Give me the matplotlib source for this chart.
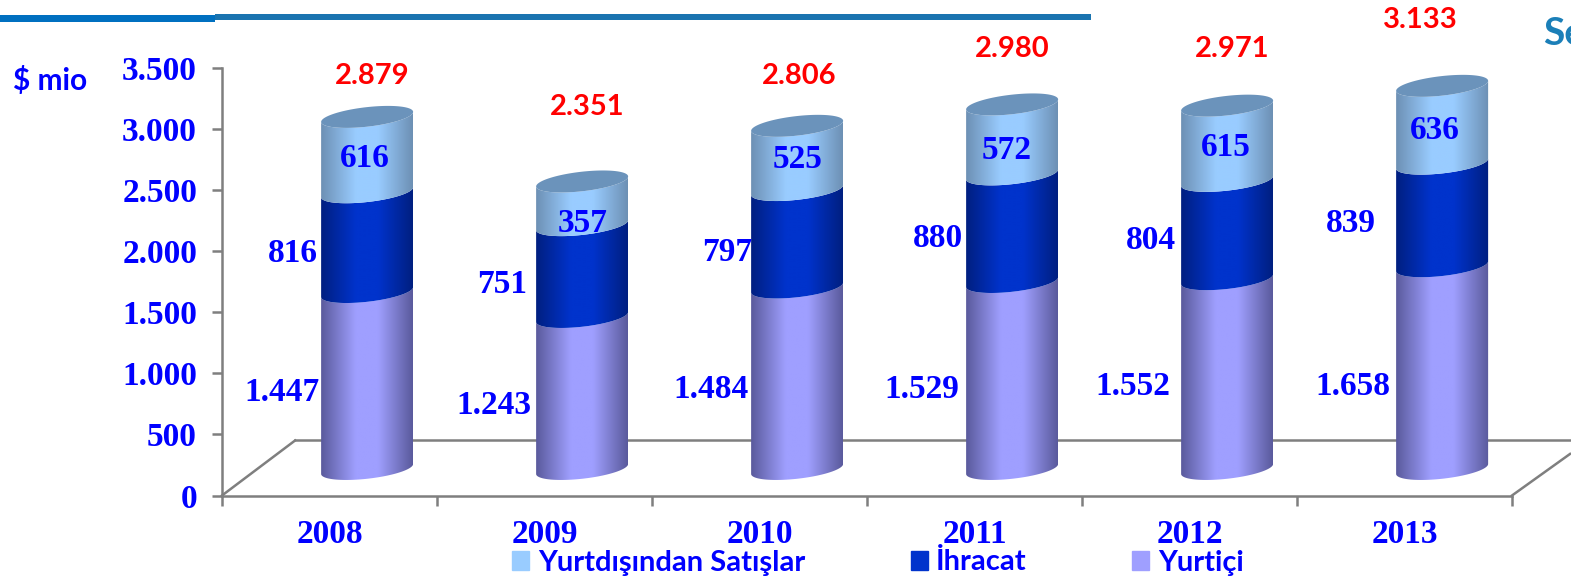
import numpy as np
import matplotlib
matplotlib.use("Agg")
import matplotlib.pyplot as plt
from matplotlib.colors import LinearSegmentedColormap
from matplotlib.patches import Patch, PathPatch, Rectangle
from matplotlib.path import Path

# ---------- data ----------
years = ["2008", "2009", "2010", "2011", "2012", "2013"]
yurtici = [1447, 1243, 1484, 1529, 1552, 1658]
ihracat = [816, 751, 797, 880, 804, 839]
yurtdisi = [616, 357, 525, 572, 615, 636]
totals = [2879, 2351, 2806, 2980, 2971, 3133]
series_names = ["Yurtdışından Satışlar", "İhracat", "Yurtiçi"]
y_ticks = [0, 500, 1000, 1500, 2000, 2500, 3000, 3500]

# ---------- style / layout (pixels) ----------
W, H = 1571, 581
AX_L, AX_R, AX_T, AX_B = 222, 1512, 67.5, 495.5
BLUE, RED, GREY = "#0000ff", "#ff0000", "#7f7f7f"
SERIF = "Liberation Serif"
SANS = "Lato"
LIGHT = ("#6d90b4", "#99ccff")
MID = ("#001f80", "#0033cc")
LOW = ("#5a5a9c", "#9f9fff")
TOPCAP = "#6b93bb"
BAR_OFFSET = 0.175      # 3-D shift of the bars from the category centre
BAR_HALF = 46           # px
ELL_SHEAR = 5           # px rise from centre to the right edge
ELL_B = 9.8             # px
FLOOR = 217             # value at which the 3-D base sits

lab_low = [(-85, 12), (-88, 12.5), (-86, 11), (-90, 14), (-94, 12.4), (-89, 19)]
lab_mid = [(-74, 11.4), (-80, 13.4), (-70, 13.7), (-74, 10.3), (-76, 10.5), (-91, 8.5)]
lab_top = [(-2, 4), (1, 20), (0, 1.5), (-6, 11), (-1, 4), (-7, 6)]
lab_tot = [(5, -41), (5, -74), (2, -50), (0, -55), (5, -57), (-22, -66)]

fig = plt.figure(figsize=(W / 100, H / 100), dpi=100, facecolor="white")
ax = fig.add_axes([AX_L / W, 1 - AX_B / H, (AX_R - AX_L) / W, (AX_B - AX_T) / H])
ax.set_xlim(0, len(years))
ax.set_ylim(0, 3500)
ax.patch.set_alpha(0)

px_x = (AX_R - AX_L) / len(years)     # px per category
px_y = (AX_B - AX_T) / 3500           # px per value


def grad(edge, centre):
    return LinearSegmentedColormap.from_list(
        "g", [(0, edge), (0.38, centre), (0.62, centre), (1, edge)])


def arc(xc, v, t):
    """Ellipse points in data coordinates; t=pi..2pi is the front (lower) side."""
    dx = BAR_HALF * np.cos(t)
    dy = ELL_SHEAR * np.cos(t) + ELL_B * np.sin(t)
    return np.column_stack([xc + dx / px_x, v + dy / px_y])


T_FRONT = np.linspace(np.pi, 2 * np.pi, 60)
ramp = np.linspace(0, 1, 256).reshape(1, -1)


def segment(xc, v0, v1, colors, z):
    lower = arc(xc, v0, T_FRONT)
    upper = arc(xc, v1, T_FRONT)[::-1]
    verts = np.vstack([lower, upper, lower[:1]])
    clip = PathPatch(Path(verts), transform=ax.transData, fc="none", ec="none")
    ax.add_patch(clip)
    margin = 30 / px_y
    im = ax.imshow(ramp, aspect="auto", cmap=grad(*colors), zorder=z,
                   extent=[xc - BAR_HALF / px_x, xc + BAR_HALF / px_x,
                           v0 - margin, v1 + margin], interpolation="bilinear")
    im.set_clip_path(clip)


# floor of the 3-D plot
back_v = 450
floor_depth = 0.34
ax.plot([0, floor_depth], [0, back_v], color=GREY, lw=1.8, zorder=1, clip_on=False)
ax.plot([floor_depth, 6.27], [back_v, back_v], color=GREY, lw=1.8, zorder=1, clip_on=False)
ax.plot([6, 6.27], [0, 340], color=GREY, lw=1.8, zorder=1, clip_on=False)

# cylinders
for i in range(len(years)):
    xc = i + 0.5 + BAR_OFFSET
    b0 = FLOOR
    b1 = b0 + yurtici[i]
    b2 = b1 + ihracat[i]
    b3 = b2 + yurtdisi[i]
    segment(xc, b0, b1, LOW, 3)
    segment(xc, b1, b2, MID, 3.1)
    segment(xc, b2, b3, LIGHT, 3.2)
    cap = arc(xc, b3, np.linspace(0, 2 * np.pi, 120))
    ax.fill(cap[:, 0], cap[:, 1], color=TOPCAP, lw=0, zorder=3.3)

    for val, mid, off in ((yurtici[i], b0 + yurtici[i] / 2, lab_low[i]),
                          (ihracat[i], b1 + ihracat[i] / 2, lab_mid[i]),
                          (yurtdisi[i], b2 + yurtdisi[i] / 2, lab_top[i])):
        ax.annotate(f"{val:,}".replace(",", "."), (xc, mid), xytext=(off[0], -off[1]),
                    textcoords="offset pixels", ha="center", va="center",
                    color=BLUE, fontsize=24, fontweight="bold", family=SERIF, zorder=5)
    ax.annotate(f"{totals[i]:,}".replace(",", "."), (xc, b3),
                xytext=(lab_tot[i][0], -lab_tot[i][1]), textcoords="offset pixels",
                ha="center", va="center", color=RED, fontsize=21, fontweight="bold",
                family=SANS, zorder=5, annotation_clip=False)

ax.set_xlim(0, len(years))
ax.set_ylim(0, 3500)

# axes
for s in ("top", "right"):
    ax.spines[s].set_visible(False)
for s in ("left", "bottom"):
    ax.spines[s].set_color(GREY)
    ax.spines[s].set_linewidth(1.8)
ax.set_yticks(y_ticks)
ax.set_yticklabels([f"{v:,}".replace(",", ".") for v in y_ticks], color=BLUE,
                   fontsize=24, fontweight="bold", family=SERIF)
ax.tick_params(axis="y", length=7, width=1.8, color=GREY, pad=11)
ax.set_xticks(range(len(years) + 1))
ax.set_xticklabels([])
ax.tick_params(axis="x", which="major", length=7, width=1.8, color=GREY)
ax.set_xticks(np.arange(len(years)) + 0.5, minor=True)
ax.set_xticklabels(years, minor=True, color=BLUE, fontsize=24, fontweight="bold", family=SERIF)
ax.tick_params(axis="x", which="minor", length=0, pad=17)

# legend
handles = [Patch(color=c) for c in (LIGHT[1], "#0033cc", LOW[1])]
leg = fig.legend(handles, series_names, loc="center", bbox_to_anchor=(878 / W, 1 - 562.5 / H),
                 ncol=3, frameon=False, handlelength=0.58, handleheight=0.62,
                 handletextpad=0.3, columnspacing=3.62, borderpad=0,
                 prop={"family": SANS, "weight": "bold", "size": 21})
for t in leg.get_texts():
    t.set_color(BLUE)

# decorations
fig.add_artist(Rectangle((0, 1 - 22 / H), 215 / W, 7 / H, color="#0070c0", lw=0,
                         transform=fig.transFigure))
fig.add_artist(Rectangle((215 / W, 1 - 20 / H), 876 / W, 6 / H, color="#1a74b0", lw=0,
                         transform=fig.transFigure))
fig.text(13 / W, 1 - 81 / H, "$ mio", color=BLUE, fontsize=21.5, fontweight="bold", family=SANS,
         ha="left", va="center", parse_math=False)
fig.text(1543 / W, 1 - 45 / H, "Se", color="#1b7fb8", fontsize=28, fontweight="bold", family=SANS,
         ha="left", va="baseline")

fig.savefig("out.png", dpi=100, facecolor="white")
